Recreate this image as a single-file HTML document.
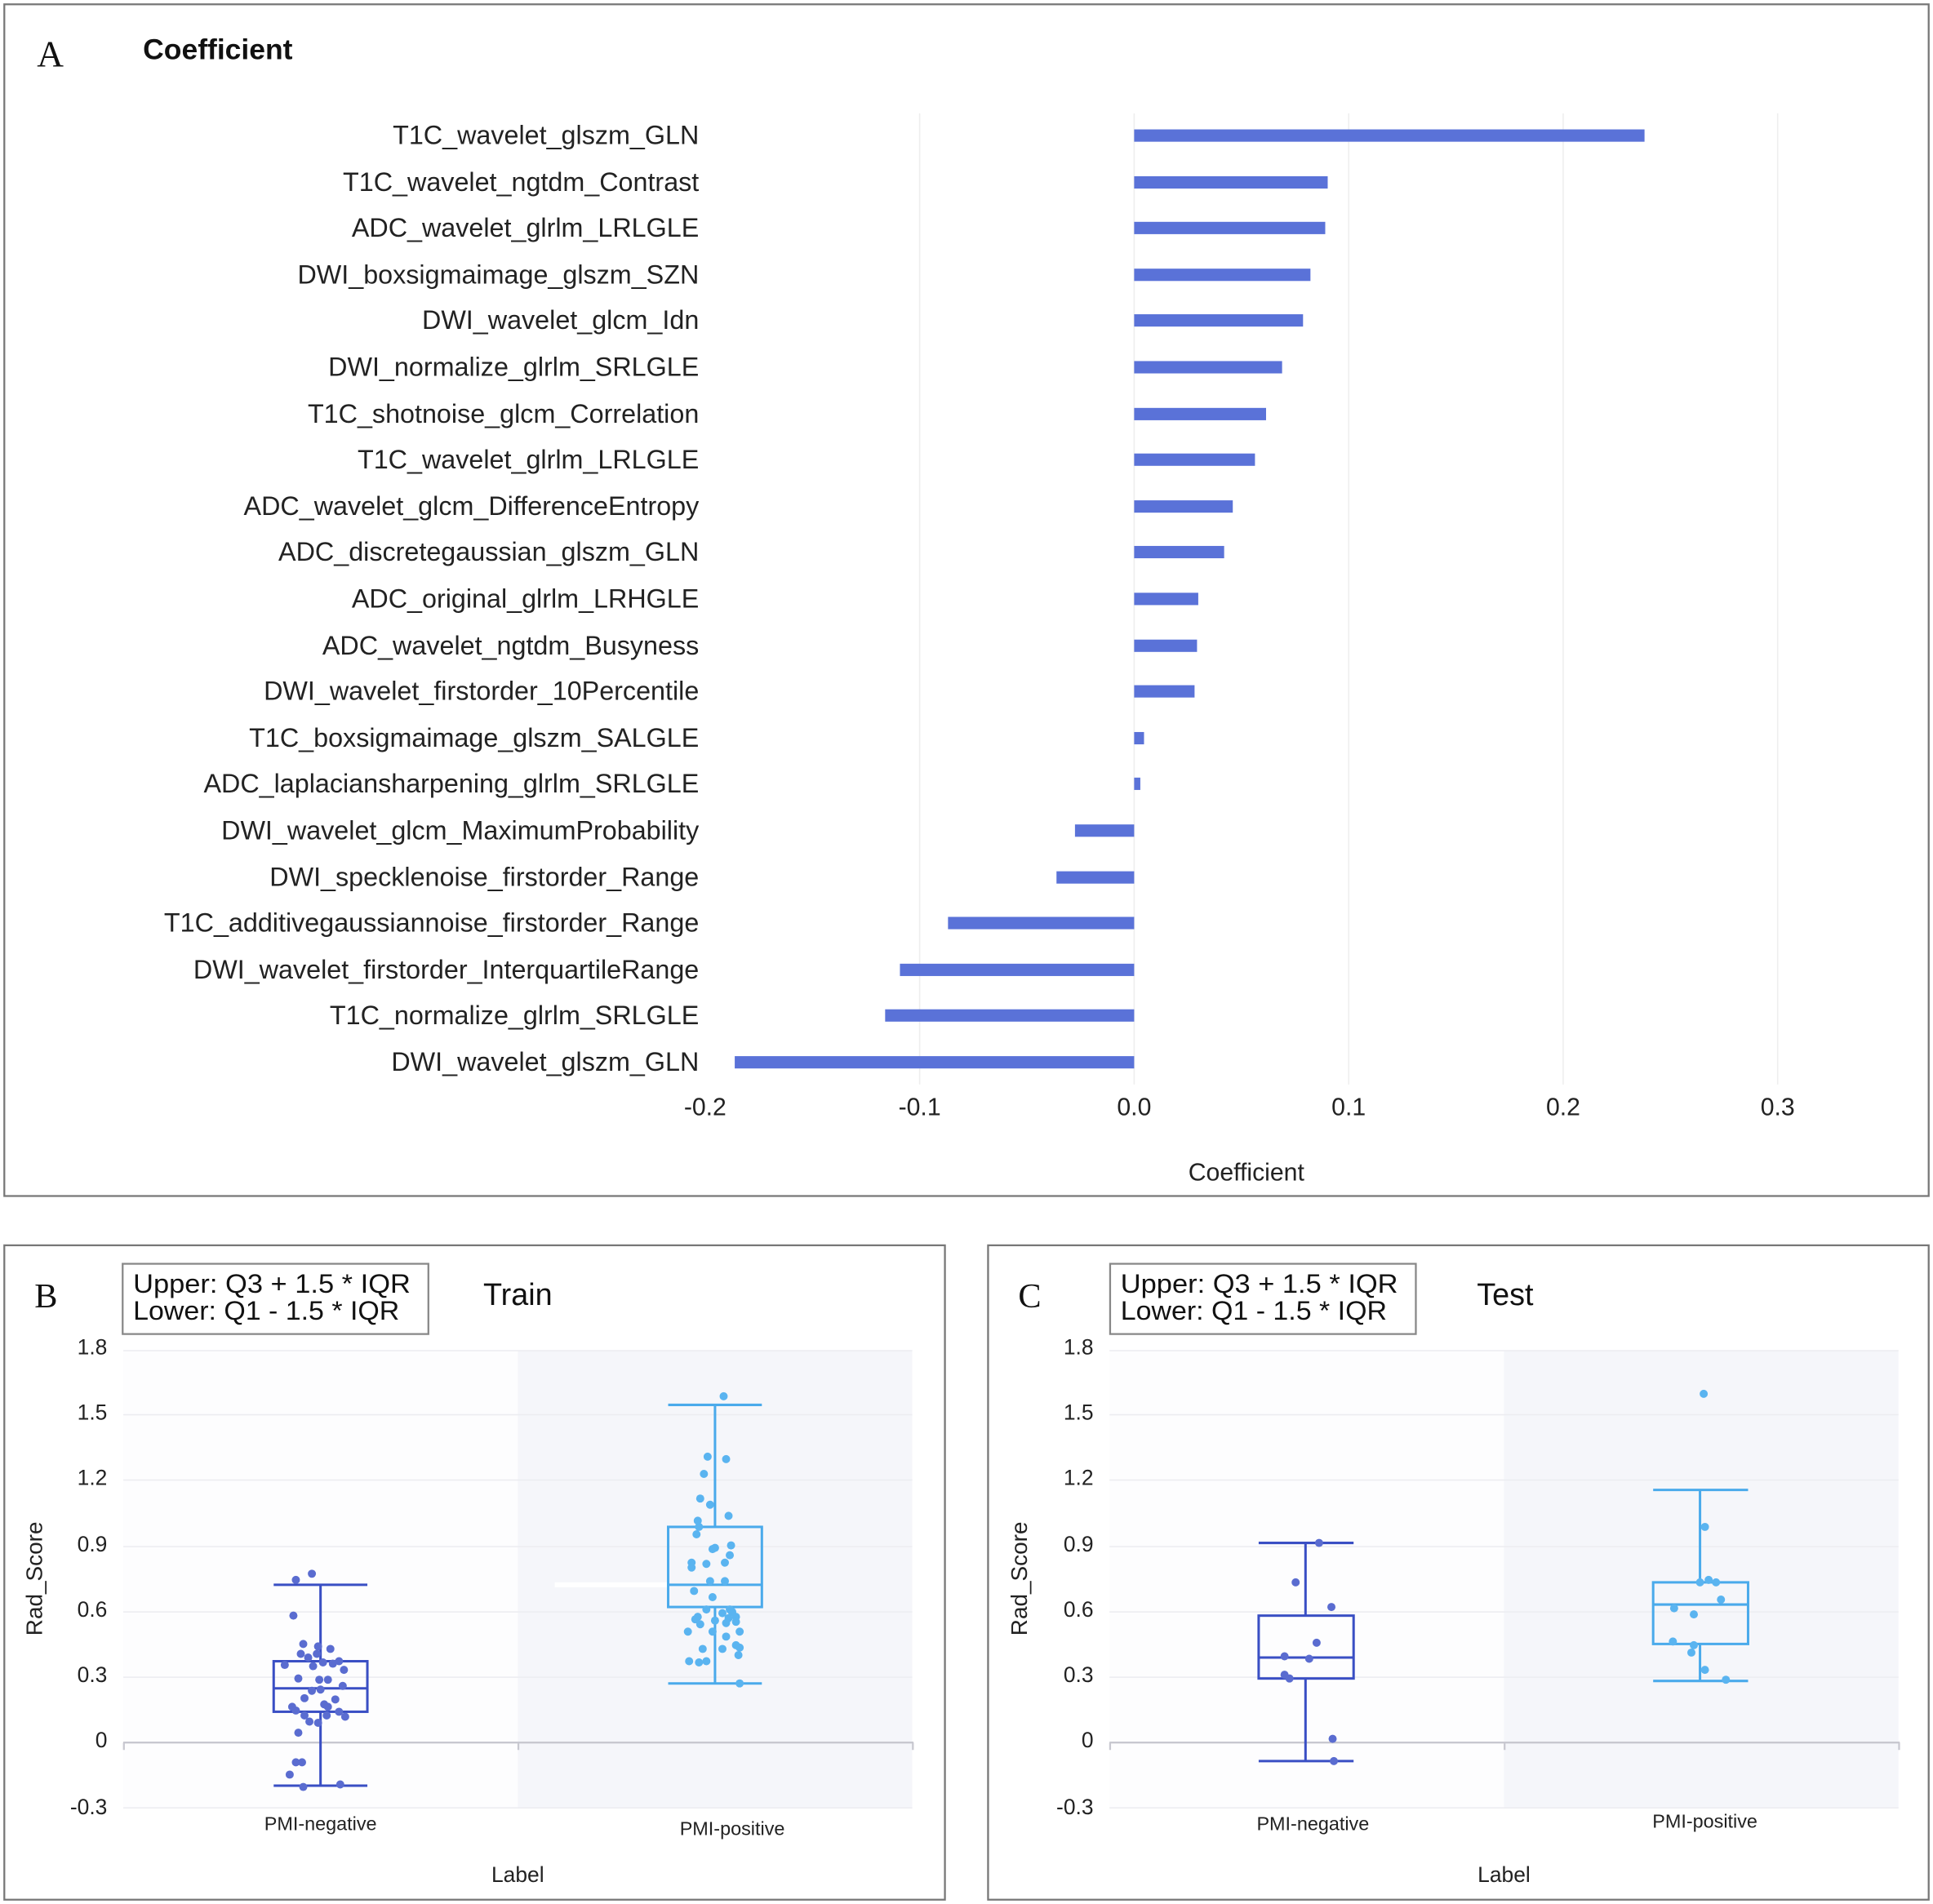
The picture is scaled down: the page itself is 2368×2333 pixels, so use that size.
<!DOCTYPE html>
<html><head><meta charset="utf-8"><style>html,body{margin:0;padding:0;background:#fff}svg{display:block}text{font-family:"Liberation Sans",sans-serif}</style></head>
<body>
<svg width="2368" height="2333" viewBox="0 0 1568 1545" preserveAspectRatio="none" xmlns="http://www.w3.org/2000/svg">
<rect x="0" y="0" width="1568" height="1545" fill="#fff"/>
<!-- Panel A -->
<rect x="3.5" y="3.5" width="1561" height="967" fill="none" stroke="#777" stroke-width="1.5"/>
<text x="30" y="54" font-size="30" fill="#111" style="font-family:'Liberation Serif',serif">A</text>
<text x="116" y="48" font-size="23.5" font-weight="bold" fill="#111">Coefficient</text>
<g stroke="#eee" stroke-width="1">
<line x1="746" y1="92" x2="746" y2="880"/><line x1="920" y1="92" x2="920" y2="880"/><line x1="1094" y1="92" x2="1094" y2="880"/><line x1="1268" y1="92" x2="1268" y2="880"/><line x1="1442" y1="92" x2="1442" y2="880"/>
</g>
<g font-size="21.4" fill="#222" text-anchor="end">
<text x="567" y="117">T1C_wavelet_glszm_GLN</text>
<text x="567" y="155">T1C_wavelet_ngtdm_Contrast</text>
<text x="567" y="192">ADC_wavelet_glrlm_LRLGLE</text>
<text x="567" y="230">DWI_boxsigmaimage_glszm_SZN</text>
<text x="567" y="267">DWI_wavelet_glcm_Idn</text>
<text x="567" y="305">DWI_normalize_glrlm_SRLGLE</text>
<text x="567" y="343">T1C_shotnoise_glcm_Correlation</text>
<text x="567" y="380">T1C_wavelet_glrlm_LRLGLE</text>
<text x="567" y="418">ADC_wavelet_glcm_DifferenceEntropy</text>
<text x="567" y="455">ADC_discretegaussian_glszm_GLN</text>
<text x="567" y="493">ADC_original_glrlm_LRHGLE</text>
<text x="567" y="531">ADC_wavelet_ngtdm_Busyness</text>
<text x="567" y="568">DWI_wavelet_firstorder_10Percentile</text>
<text x="567" y="606">T1C_boxsigmaimage_glszm_SALGLE</text>
<text x="567" y="643">ADC_laplaciansharpening_glrlm_SRLGLE</text>
<text x="567" y="681">DWI_wavelet_glcm_MaximumProbability</text>
<text x="567" y="719">DWI_specklenoise_firstorder_Range</text>
<text x="567" y="756">T1C_additivegaussiannoise_firstorder_Range</text>
<text x="567" y="794">DWI_wavelet_firstorder_InterquartileRange</text>
<text x="567" y="831">T1C_normalize_glrlm_SRLGLE</text>
<text x="567" y="869">DWI_wavelet_glszm_GLN</text>
</g>
<g fill="#5a72d8">
<rect x="920" y="105" width="414" height="10"/>
<rect x="920" y="143" width="157" height="10"/>
<rect x="920" y="180" width="155" height="10"/>
<rect x="920" y="218" width="143" height="10"/>
<rect x="920" y="255" width="137" height="10"/>
<rect x="920" y="293" width="120" height="10"/>
<rect x="920" y="331" width="107" height="10"/>
<rect x="920" y="368" width="98" height="10"/>
<rect x="920" y="406" width="80" height="10"/>
<rect x="920" y="443" width="73" height="10"/>
<rect x="920" y="481" width="52" height="10"/>
<rect x="920" y="519" width="51" height="10"/>
<rect x="920" y="556" width="49" height="10"/>
<rect x="920" y="594" width="8" height="10"/>
<rect x="920" y="631" width="5" height="10"/>
<rect x="872" y="669" width="48" height="10"/>
<rect x="857" y="707" width="63" height="10"/>
<rect x="769" y="744" width="151" height="10"/>
<rect x="730" y="782" width="190" height="10"/>
<rect x="718" y="819" width="202" height="10"/>
<rect x="596" y="857" width="324" height="10"/>
</g>
<g font-size="20" fill="#222" text-anchor="middle">
<text x="572" y="905">-0.2</text><text x="746" y="905">-0.1</text><text x="920" y="905">0.0</text><text x="1094" y="905">0.1</text><text x="1268" y="905">0.2</text><text x="1442" y="905">0.3</text>
<text x="1011" y="958">Coefficient</text>
</g>

<!-- Panel B -->
<g id="pb">
<rect x="3.5" y="1010.5" width="763" height="531" fill="none" stroke="#777" stroke-width="1.5"/>
<text x="28" y="1061" font-size="28" fill="#111" style="font-family:'Liberation Serif',serif">B</text>
<rect x="99.5" y="1025.5" width="248" height="57" fill="#fff" stroke="#888" stroke-width="1.5"/>
<text x="108" y="1049" font-size="21.5" fill="#111" textLength="225" lengthAdjust="spacingAndGlyphs">Upper: Q3 + 1.5 * IQR</text>
<text x="108" y="1071" font-size="21.5" fill="#111" textLength="216" lengthAdjust="spacingAndGlyphs">Lower: Q1 - 1.5 * IQR</text>
<text x="392" y="1059" font-size="25" fill="#111">Train</text>
<rect x="100" y="1096" width="320" height="371" fill="#fdfdfe"/>
<rect x="420" y="1096" width="320" height="371" fill="#f5f6fa"/>
<g stroke="#ececf0" stroke-width="1"><line x1="100" y1="1096" x2="740" y2="1096"/><line x1="100" y1="1148" x2="740" y2="1148"/><line x1="100" y1="1201" x2="740" y2="1201"/><line x1="100" y1="1255" x2="740" y2="1255"/><line x1="100" y1="1308" x2="740" y2="1308"/><line x1="100" y1="1361" x2="740" y2="1361"/><line x1="100" y1="1467" x2="740" y2="1467"/></g>
<g stroke="#c8c8d0" stroke-width="1.5"><line x1="100" y1="1414" x2="741" y2="1414"/><line x1="100.5" y1="1414" x2="100.5" y2="1420"/><line x1="420.5" y1="1414" x2="420.5" y2="1420"/><line x1="740.5" y1="1414" x2="740.5" y2="1420"/></g>
<g font-size="17.5" fill="#222" text-anchor="end"><text x="87" y="1099">1.8</text><text x="87" y="1152">1.5</text><text x="87" y="1205">1.2</text><text x="87" y="1259">0.9</text><text x="87" y="1312">0.6</text><text x="87" y="1365">0.3</text><text x="87" y="1418">0</text><text x="87" y="1472">-0.3</text></g>
<text transform="translate(34,1281) rotate(-90)" font-size="18.5" fill="#222" text-anchor="middle">Rad_Score</text>
<text x="260" y="1485" font-size="15.5" fill="#222" text-anchor="middle">PMI-negative</text>
<text x="594" y="1489" font-size="15.5" fill="#222" text-anchor="middle">PMI-positive</text>
<text x="420" y="1527" font-size="17.5" fill="#222" text-anchor="middle">Label</text>
</g>
<line x1="450" y1="1286" x2="542" y2="1286" stroke="#fff" stroke-width="4"/>
<g stroke="#3a4fc4" stroke-width="2" fill="none">
<line x1="222" y1="1286" x2="298" y2="1286"/><line x1="222" y1="1449" x2="298" y2="1449"/>
<line x1="260" y1="1286" x2="260" y2="1348"/><line x1="260" y1="1389" x2="260" y2="1449"/>
<rect x="222" y="1348" width="76" height="41"/><line x1="222" y1="1370" x2="298" y2="1370"/>
</g>
<g fill="#5a6cd0">
<circle cx="253" cy="1277" r="3.3"/><circle cx="240" cy="1282" r="3.3"/><circle cx="238" cy="1311" r="3.3"/><circle cx="246" cy="1334" r="3.3"/><circle cx="258" cy="1336" r="3.3"/><circle cx="268" cy="1338" r="3.3"/><circle cx="244" cy="1342" r="3.3"/><circle cx="250" cy="1345" r="3.3"/><circle cx="257" cy="1342" r="3.3"/><circle cx="275" cy="1348" r="3.3"/><circle cx="231" cy="1351" r="3.3"/><circle cx="262" cy="1349" r="3.3"/><circle cx="270" cy="1350" r="3.3"/><circle cx="279" cy="1355" r="3.3"/><circle cx="254" cy="1352" r="3.3"/><circle cx="259" cy="1363" r="3.3"/><circle cx="266" cy="1363" r="3.3"/><circle cx="242" cy="1362" r="3.3"/><circle cx="278" cy="1368" r="3.3"/><circle cx="253" cy="1372" r="3.3"/><circle cx="260" cy="1371" r="3.3"/><circle cx="247" cy="1378" r="3.3"/><circle cx="272" cy="1379" r="3.3"/><circle cx="263" cy="1383" r="3.3"/><circle cx="237" cy="1385" r="3.3"/><circle cx="240" cy="1388" r="3.3"/><circle cx="266" cy="1385" r="3.3"/><circle cx="275" cy="1389" r="3.3"/><circle cx="265" cy="1392" r="3.3"/><circle cx="247" cy="1392" r="3.3"/><circle cx="251" cy="1397" r="3.3"/><circle cx="280" cy="1393" r="3.3"/><circle cx="258" cy="1398" r="3.3"/><circle cx="242" cy="1406" r="3.3"/><circle cx="240" cy="1430" r="3.3"/><circle cx="245" cy="1430" r="3.3"/><circle cx="235" cy="1440" r="3.3"/><circle cx="246" cy="1450" r="3.3"/><circle cx="276" cy="1448" r="3.3"/>
</g>
<g stroke="#4aaaeb" stroke-width="2" fill="none">
<line x1="542" y1="1140" x2="618" y2="1140"/><line x1="542" y1="1366" x2="618" y2="1366"/>
<line x1="580" y1="1140" x2="580" y2="1239"/><line x1="580" y1="1304" x2="580" y2="1366"/>
<rect x="542" y="1239" width="76" height="65"/><line x1="542" y1="1286" x2="618" y2="1286"/>
</g>
<g fill="#5ab4f0">
<circle cx="587" cy="1133" r="3.3"/><circle cx="574" cy="1182" r="3.3"/><circle cx="589" cy="1184" r="3.3"/><circle cx="571" cy="1196" r="3.3"/><circle cx="568" cy="1216" r="3.3"/><circle cx="576" cy="1221" r="3.3"/><circle cx="591" cy="1230" r="3.3"/><circle cx="566" cy="1234" r="3.3"/><circle cx="567" cy="1239" r="3.3"/><circle cx="565" cy="1245" r="3.3"/><circle cx="580" cy="1256" r="3.3"/><circle cx="593" cy="1254" r="3.3"/><circle cx="592" cy="1262" r="3.3"/><circle cx="578" cy="1257" r="3.3"/><circle cx="573" cy="1269" r="3.3"/><circle cx="588" cy="1268" r="3.3"/><circle cx="576" cy="1283" r="3.3"/><circle cx="588" cy="1283" r="3.3"/><circle cx="561" cy="1268" r="3.3"/><circle cx="561" cy="1272" r="3.3"/><circle cx="563" cy="1291" r="3.3"/><circle cx="573" cy="1306" r="3.3"/><circle cx="592" cy="1306" r="3.3"/><circle cx="578" cy="1296" r="3.3"/><circle cx="566" cy="1312" r="3.3"/><circle cx="580" cy="1315" r="3.3"/><circle cx="564" cy="1314" r="3.3"/><circle cx="586" cy="1309" r="3.3"/><circle cx="593" cy="1307" r="3.3"/><circle cx="594" cy="1308" r="3.3"/><circle cx="597" cy="1312" r="3.3"/><circle cx="597" cy="1316" r="3.3"/><circle cx="591" cy="1313" r="3.3"/><circle cx="589" cy="1317" r="3.3"/><circle cx="568" cy="1318" r="3.3"/><circle cx="589" cy="1328" r="3.3"/><circle cx="578" cy="1324" r="3.3"/><circle cx="586" cy="1338" r="3.3"/><circle cx="570" cy="1338" r="3.3"/><circle cx="558" cy="1324" r="3.3"/><circle cx="559" cy="1348" r="3.3"/><circle cx="567" cy="1349" r="3.3"/><circle cx="600" cy="1324" r="3.3"/><circle cx="600" cy="1337" r="3.3"/><circle cx="573" cy="1348" r="3.3"/><circle cx="600" cy="1366" r="3.3"/><circle cx="597" cy="1335" r="3.3"/><circle cx="599" cy="1343" r="3.3"/>
</g>

<!-- Panel C -->
<g transform="translate(798,0)">
<rect x="3.5" y="1010.5" width="763" height="531" fill="none" stroke="#777" stroke-width="1.5"/>
<text x="28" y="1061" font-size="28" fill="#111" style="font-family:'Liberation Serif',serif">C</text>
<rect x="102.5" y="1025.5" width="248" height="57" fill="#fff" stroke="#888" stroke-width="1.5"/>
<text x="111" y="1049" font-size="21.5" fill="#111" textLength="225" lengthAdjust="spacingAndGlyphs">Upper: Q3 + 1.5 * IQR</text>
<text x="111" y="1071" font-size="21.5" fill="#111" textLength="216" lengthAdjust="spacingAndGlyphs">Lower: Q1 - 1.5 * IQR</text>
<text x="400" y="1059" font-size="25" fill="#111">Test</text>
<rect x="102" y="1096" width="320" height="371" fill="#fdfdfe"/>
<rect x="422" y="1096" width="320" height="371" fill="#f5f6fa"/>
<g stroke="#ececf0" stroke-width="1"><line x1="102" y1="1096" x2="742" y2="1096"/><line x1="102" y1="1148" x2="742" y2="1148"/><line x1="102" y1="1201" x2="742" y2="1201"/><line x1="102" y1="1255" x2="742" y2="1255"/><line x1="102" y1="1308" x2="742" y2="1308"/><line x1="102" y1="1361" x2="742" y2="1361"/><line x1="102" y1="1467" x2="742" y2="1467"/></g>
<g stroke="#c8c8d0" stroke-width="1.5"><line x1="102" y1="1414" x2="743" y2="1414"/><line x1="102.5" y1="1414" x2="102.5" y2="1420"/><line x1="422.5" y1="1414" x2="422.5" y2="1420"/><line x1="742.5" y1="1414" x2="742.5" y2="1420"/></g>
<g font-size="17.5" fill="#222" text-anchor="end"><text x="89" y="1099">1.8</text><text x="89" y="1152">1.5</text><text x="89" y="1205">1.2</text><text x="89" y="1259">0.9</text><text x="89" y="1312">0.6</text><text x="89" y="1365">0.3</text><text x="89" y="1418">0</text><text x="89" y="1472">-0.3</text></g>
<text transform="translate(35,1281) rotate(-90)" font-size="18.5" fill="#222" text-anchor="middle">Rad_Score</text>
<text x="267" y="1485" font-size="15.5" fill="#222" text-anchor="middle">PMI-negative</text>
<text x="585" y="1483" font-size="15.5" fill="#222" text-anchor="middle">PMI-positive</text>
<text x="422" y="1527" font-size="17.5" fill="#222" text-anchor="middle">Label</text>
</g>
<g stroke="#3a4fc4" stroke-width="2" fill="none">
<line x1="1021" y1="1252" x2="1098" y2="1252"/><line x1="1021" y1="1429" x2="1098" y2="1429"/>
<line x1="1059" y1="1252" x2="1059" y2="1311"/><line x1="1059" y1="1362" x2="1059" y2="1429"/>
<rect x="1021" y="1311" width="77" height="51"/><line x1="1021" y1="1345" x2="1098" y2="1345"/>
</g>
<g fill="#5a6cd0">
<circle cx="1070" cy="1252" r="3.3"/><circle cx="1051" cy="1284" r="3.3"/><circle cx="1080" cy="1304" r="3.3"/><circle cx="1068" cy="1333" r="3.3"/><circle cx="1042" cy="1344" r="3.3"/><circle cx="1062" cy="1346" r="3.3"/><circle cx="1042" cy="1359" r="3.3"/><circle cx="1046" cy="1362" r="3.3"/><circle cx="1081" cy="1411" r="3.3"/><circle cx="1082" cy="1429" r="3.3"/>
</g>
<g stroke="#4aaaeb" stroke-width="2" fill="none">
<line x1="1341" y1="1209" x2="1418" y2="1209"/><line x1="1341" y1="1364" x2="1418" y2="1364"/>
<line x1="1379" y1="1209" x2="1379" y2="1284"/><line x1="1379" y1="1334" x2="1379" y2="1364"/>
<rect x="1341" y="1284" width="77" height="50"/><line x1="1341" y1="1302" x2="1418" y2="1302"/>
</g>
<g fill="#5ab4f0">
<circle cx="1382" cy="1131" r="3.3"/><circle cx="1383" cy="1239" r="3.3"/><circle cx="1379" cy="1284" r="3.3"/><circle cx="1386" cy="1282" r="3.3"/><circle cx="1396" cy="1298" r="3.3"/><circle cx="1358" cy="1305" r="3.3"/><circle cx="1374" cy="1310" r="3.3"/><circle cx="1357" cy="1332" r="3.3"/><circle cx="1374" cy="1335" r="3.3"/><circle cx="1372" cy="1341" r="3.3"/><circle cx="1383" cy="1355" r="3.3"/><circle cx="1400" cy="1363" r="3.3"/><circle cx="1392" cy="1284" r="3.3"/>
</g>
</svg>
</body></html>
